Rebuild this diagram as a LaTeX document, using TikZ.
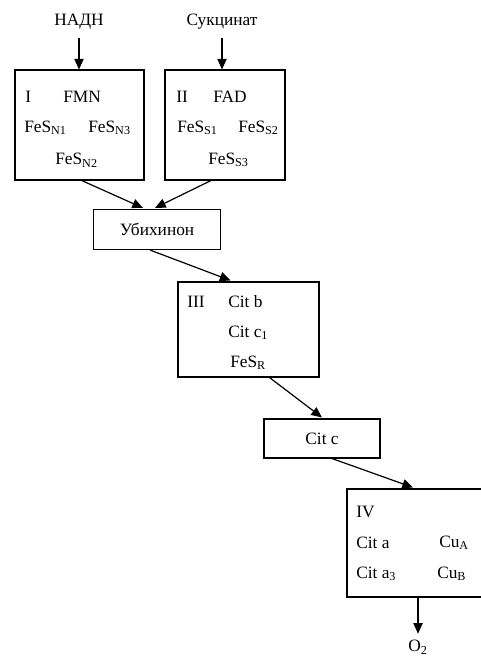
\documentclass[tikz,border=0pt]{standalone}
\usepackage{fontspec}
\setmainfont{Liberation Serif}
\usepackage{tikz}
\usetikzlibrary{arrows.meta, calc}

\begin{document}
\begin{tikzpicture}[x=0.75pt, y=-0.75pt,
    box/.style={draw, line width=0.8pt, inner sep=0pt},
    txt/.style={font=\fontsize{13}{15}\selectfont, inner sep=0pt, anchor=west},
    arr/.style={-{Triangle[length=8pt, width=7pt]}, line width=0.9pt},
]
    \useasboundingbox (0,0) rectangle (481,657);

    % Substrates
    \node[txt, anchor=center] (nadh) at (79,22) {НАДН};
    \node[txt, anchor=center] (succ) at (222,22) {Сукцинат};

    % Complex I and II
    \node[box, minimum width=96.75pt, minimum height=82.5pt] (cI) at (79.5,125) {};
    \node[box, minimum width=90pt, minimum height=82.5pt] (cII) at (225,125) {};

    \node[txt] (tI) at (25,97) {I};
    \node[txt] (fmn) at (63,97) {FMN};
    \node[txt] (n1) at (24,128) {FeS\textsubscript{N1}};
    \node[txt] (n3) at (88,128) {FeS\textsubscript{N3}};
    \node[txt] (n2) at (55,160) {FeS\textsubscript{N2}};

    \node[txt] (tII) at (176,97) {II};
    \node[txt] (fad) at (213,97) {FAD};
    \node[txt] (s1) at (177,128) {FeS\textsubscript{S1}};
    \node[txt] (s2) at (238,128) {FeS\textsubscript{S2}};
    \node[txt] (s3) at (208,160) {FeS\textsubscript{S3}};

    % Ubiquinone
    \node[box, minimum width=95pt, minimum height=30pt] (ubi) at (157,229.5) {};
    \node[txt, anchor=center] (tubi) at (ubi) {Убихинон};

    % Complex III
    \node[box, minimum width=105.75pt, minimum height=71.25pt] (cIII) at (248.5,329.5) {};
    \node[txt] (tIII) at (187,302) {III};
    \node[txt] (citb) at (228,302) {Cit b};
    \node[txt] (citc1) at (228,333) {Cit c\textsubscript{1}};
    \node[txt] (fesr) at (230,363) {FeS\textsubscript{R}};

    % Cytochrome c
    \node[box, minimum width=87pt, minimum height=29.25pt] (citc) at (322,438.5) {};
    \node[txt, anchor=center] (tcitc) at (citc) {Cit c};

    % Complex IV (runs off the right edge)
    \node[box, minimum width=108pt, minimum height=81pt] (cIV) at (419,543) {};
    \node[txt] (tIV) at (356,512) {IV};
    \node[txt] (cita) at (356,543) {Cit a};
    \node[txt] (cua) at (439,543) {Cu\textsubscript{A}};
    \node[txt] (cita3) at (356,574) {Cit a\textsubscript{3}};
    \node[txt] (cub) at (437,574) {Cu\textsubscript{B}};

    \node[txt, anchor=center] (o2) at (418,647) {O\textsubscript{2}};

    % Electron flow
    \draw[arr] (nadh.south |- 0,38) -- (nadh.south |- cI.north);
    \draw[arr] (succ.south |- 0,38) -- (succ.south |- cII.north);
    \draw[arr] ($(cI.south)+(0,-1)$) -- ($(ubi.north)+(-14,-1)$);
    \draw[arr] ($(cII.south)+(-12,-1)$) -- ($(ubi.north)+(-2,-1)$);
    \draw[arr] ($(ubi.south)+(-7,0)$) -- ($(cIII.north)+(-18,-1)$);
    \draw[arr] ($(cIII.south)+(21,0)$) -- ($(citc.north)+(0,-1)$);
    \draw[arr] ($(citc.south)+(10,0)$) -- ($(cIV.north)+(-6,-1)$);
    \draw[arr] (o2.north |- cIV.south) -- ($(o2.north)+(0,-6)$);
\end{tikzpicture}
\end{document}
